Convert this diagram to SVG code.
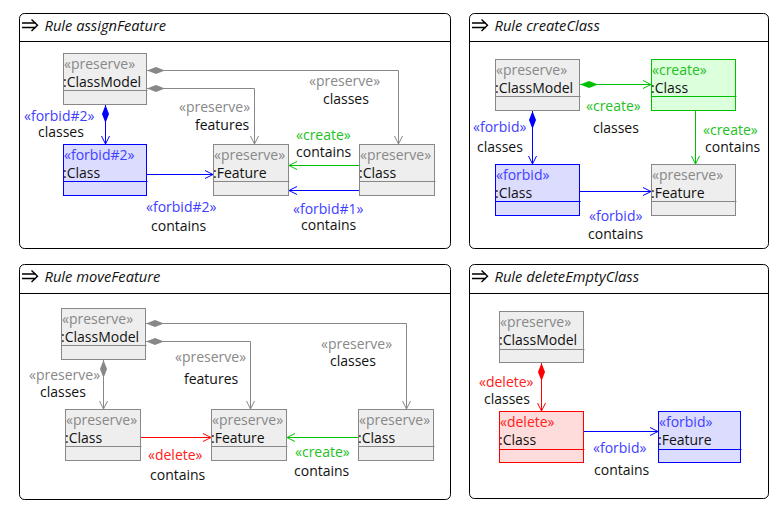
<svg xmlns="http://www.w3.org/2000/svg" width="784" height="508" viewBox="0 0 784 508">
<style>
text{font-family:"Open Sans","Noto Sans","Liberation Sans",sans-serif;font-size:14px;fill:#111}
.title{font-style:italic;font-size:14.7px}
.frame{fill:#fff;stroke:#000;stroke-width:1}
.hdr{stroke:#000;stroke-width:1}
.icon{fill:none;stroke:#000;stroke-width:1.4}
.np{fill:#eeeeee;stroke:#888}
.nf{fill:#dcdcff;stroke:#0000ff}
.nc{fill:#dcffdc;stroke:#00c000}
.nd{fill:#ffdcdc;stroke:#ff0000}
.dp{stroke:#888}.df{stroke:#0000ff}.dc{stroke:#00c000}.dd{stroke:#ff0000}
.sp{fill:#888}.sf{fill:#4040ff}.sc{fill:#22c022}.sd{fill:#ff2020}
.cp{fill:none;stroke:#888}.cf{fill:none;stroke:#0000ff}.cc{fill:none;stroke:#00c000}.cd{fill:none;stroke:#ff0000}
</style>
<defs>
<marker id="ap" markerUnits="userSpaceOnUse" markerWidth="12" markerHeight="12" viewBox="-10 -6 12 12" refX="0" refY="0" orient="auto"><path d="M-8,-4 L0,0 L-8,4" fill="none" stroke="#888"/></marker>
<marker id="af" markerUnits="userSpaceOnUse" markerWidth="12" markerHeight="12" viewBox="-10 -6 12 12" refX="0" refY="0" orient="auto"><path d="M-8,-4 L0,0 L-8,4" fill="none" stroke="#0000ff"/></marker>
<marker id="ac" markerUnits="userSpaceOnUse" markerWidth="12" markerHeight="12" viewBox="-10 -6 12 12" refX="0" refY="0" orient="auto"><path d="M-8,-4 L0,0 L-8,4" fill="none" stroke="#00c000"/></marker>
<marker id="ad" markerUnits="userSpaceOnUse" markerWidth="12" markerHeight="12" viewBox="-10 -6 12 12" refX="0" refY="0" orient="auto"><path d="M-8,-4 L0,0 L-8,4" fill="none" stroke="#ff0000"/></marker>
<marker id="mp" markerUnits="userSpaceOnUse" markerWidth="20" markerHeight="10" viewBox="-1 -5 20 10" refX="0" refY="0" orient="auto"><path d="M0,0 L9,-3.5 L18,0 L9,3.5 Z" fill="#888"/></marker>
<marker id="mf" markerUnits="userSpaceOnUse" markerWidth="20" markerHeight="10" viewBox="-1 -5 20 10" refX="0" refY="0" orient="auto"><path d="M0,0 L9,-3.5 L18,0 L9,3.5 Z" fill="#0000ff"/></marker>
<marker id="mc" markerUnits="userSpaceOnUse" markerWidth="20" markerHeight="10" viewBox="-1 -5 20 10" refX="0" refY="0" orient="auto"><path d="M0,0 L9,-3.5 L18,0 L9,3.5 Z" fill="#00c000"/></marker>
<marker id="md" markerUnits="userSpaceOnUse" markerWidth="20" markerHeight="10" viewBox="-1 -5 20 10" refX="0" refY="0" orient="auto"><path d="M0,0 L9,-3.5 L18,0 L9,3.5 Z" fill="#ff0000"/></marker>
<g id="ico"><path class="icon" d="M22,23 H36 M22,27.5 H36 M31.5,19.5 L37.5,25.2 L31.5,31"/></g>
</defs>

<!-- Panel frames -->
<g id="rule-assignFeature">
<rect class="frame" x="19.5" y="13.5" width="431" height="235" rx="5"/>
<line class="hdr" x1="19.5" y1="41.5" x2="450.5" y2="41.5"/>
<use href="#ico"/>
<text class="title" x="44.5" y="31">Rule assignFeature</text>
</g>
<g id="rule-createClass">
<rect class="frame" x="469.5" y="13.5" width="299" height="235" rx="5"/>
<line class="hdr" x1="469.5" y1="41.5" x2="768.5" y2="41.5"/>
<use href="#ico" x="450"/>
<text class="title" x="494.5" y="31">Rule createClass</text>
</g>
<g id="rule-moveFeature">
<rect class="frame" x="19.5" y="264.5" width="431" height="235" rx="5"/>
<line class="hdr" x1="19.5" y1="293.5" x2="450.5" y2="293.5"/>
<use href="#ico" y="251"/>
<text class="title" x="44.5" y="282">Rule moveFeature</text>
</g>
<g id="rule-deleteEmptyClass">
<rect class="frame" x="469.5" y="264.5" width="299" height="234" rx="5"/>
<line class="hdr" x1="469.5" y1="293.5" x2="768.5" y2="293.5"/>
<use href="#ico" x="450" y="251"/>
<text class="title" x="494.5" y="282">Rule deleteEmptyClass</text>
</g>

<!-- Connectors -->
<g id="connectors">
<path class="cp" d="M147,70.5 H398.5 V144" marker-start="url(#mp)" marker-end="url(#ap)"/>
<path class="cp" d="M147,88.5 H254.5 V144" marker-start="url(#mp)" marker-end="url(#ap)"/>
<path class="cf" d="M105.5,105 V144" marker-start="url(#mf)" marker-end="url(#af)"/>
<path class="cf" d="M147,174.5 H213" marker-end="url(#af)"/>
<path class="cc" d="M359,165.5 H289" marker-end="url(#ac)"/>
<path class="cf" d="M359,190.5 H289" marker-end="url(#af)"/>

<path class="cc" d="M580,84.5 H651" marker-start="url(#mc)" marker-end="url(#ac)"/>
<path class="cf" d="M532.5,111 V164" marker-start="url(#mf)" marker-end="url(#af)"/>
<path class="cc" d="M695.5,111 V164" marker-end="url(#ac)"/>
<path class="cf" d="M580,191.5 H651" marker-end="url(#af)"/>

<path class="cp" d="M146,323.5 H406.5 V409" marker-start="url(#mp)" marker-end="url(#ap)"/>
<path class="cp" d="M146,341.5 H250.5 V409" marker-start="url(#mp)" marker-end="url(#ap)"/>
<path class="cp" d="M103.5,360 V409" marker-start="url(#mp)" marker-end="url(#ap)"/>
<path class="cd" d="M141,437.5 H211" marker-end="url(#ad)"/>
<path class="cc" d="M358,437.5 H287" marker-end="url(#ac)"/>

<path class="cd" d="M541.5,363 V411" marker-start="url(#md)" marker-end="url(#ad)"/>
<path class="cf" d="M584,431.5 H658" marker-end="url(#af)"/>
</g>

<!-- Connector labels -->
<g id="edge-labels">
<text class="sf" x="24" y="121">«forbid#2»</text><text x="38" y="137">classes</text>
<text class="sp" x="179" y="111.5">«preserve»</text><text x="195" y="129.5">features</text>
<text class="sp" x="309" y="85.5">«preserve»</text><text x="323" y="103.5">classes</text>
<text class="sc" x="296" y="139.5">«create»</text><text x="296" y="156.5">contains</text>
<text class="sf" x="146" y="211.5">«forbid#2»</text><text x="151" y="230.5">contains</text>
<text class="sf" x="293" y="214">«forbid#1»</text><text x="301" y="230">contains</text>

<text class="sc" x="586" y="111">«create»</text><text x="593" y="132.5">classes</text>
<text class="sf" x="473" y="131.5">«forbid»</text><text x="477" y="151.5">classes</text>
<text class="sc" x="703" y="134.5">«create»</text><text x="705" y="151.5">contains</text>
<text class="sf" x="589" y="220.5">«forbid»</text><text x="588" y="238.5">contains</text>

<text class="sp" x="29" y="379.5">«preserve»</text><text x="40" y="396.5">classes</text>
<text class="sp" x="175" y="362">«preserve»</text><text x="184" y="383.5">features</text>
<text class="sp" x="321" y="348.5">«preserve»</text><text x="330" y="365.5">classes</text>
<text class="sd" x="148" y="459.5">«delete»</text><text x="150" y="479.5">contains</text>
<text class="sc" x="295" y="456.5">«create»</text><text x="294" y="476">contains</text>

<text class="sd" x="479" y="387">«delete»</text><text x="484" y="403.5">classes</text>
<text class="sf" x="593" y="452.5">«forbid»</text><text x="594" y="474.5">contains</text>
</g>

<!-- Nodes: assignFeature -->
<g id="af-classmodel"><rect class="np" x="63.5" y="53.5" width="83" height="51"/><line class="dp" x1="63.5" y1="90.5" x2="147.5" y2="90.5"/><text class="sp" x="64" y="69">«preserve»</text><text x="63" y="86.5">:ClassModel</text></g>
<g id="af-class-forbid"><rect class="nf" x="63.5" y="144.5" width="83" height="51"/><line class="df" x1="63.5" y1="181.5" x2="147.5" y2="181.5"/><text class="sf" x="64" y="160">«forbid#2»</text><text x="63" y="177.5">:Class</text></g>
<g id="af-feature"><rect class="np" x="213.5" y="144.5" width="75" height="51"/><line class="dp" x1="213.5" y1="181.5" x2="289.5" y2="181.5"/><text class="sp" x="214" y="160">«preserve»</text><text x="213" y="177.5">:Feature</text></g>
<g id="af-class"><rect class="np" x="359.5" y="144.5" width="75" height="51"/><line class="dp" x1="359.5" y1="181.5" x2="435.5" y2="181.5"/><text class="sp" x="360" y="160">«preserve»</text><text x="359" y="177.5">:Class</text></g>

<!-- Nodes: createClass -->
<g id="cc-classmodel"><rect class="np" x="495.5" y="59.5" width="84" height="51"/><line class="dp" x1="495.5" y1="96.5" x2="580.5" y2="96.5"/><text class="sp" x="496" y="75">«preserve»</text><text x="495" y="92.5">:ClassModel</text></g>
<g id="cc-class-create"><rect class="nc" x="651.5" y="59.5" width="84" height="51"/><line class="dc" x1="651.5" y1="96.5" x2="736.5" y2="96.5"/><text class="sc" x="652" y="75">«create»</text><text x="651" y="92.5">:Class</text></g>
<g id="cc-class-forbid"><rect class="nf" x="495.5" y="164.5" width="84" height="51"/><line class="df" x1="495.5" y1="201.5" x2="580.5" y2="201.5"/><text class="sf" x="496" y="180">«forbid»</text><text x="495" y="197.5">:Class</text></g>
<g id="cc-feature"><rect class="np" x="651.5" y="164.5" width="84" height="51"/><line class="dp" x1="651.5" y1="201.5" x2="736.5" y2="201.5"/><text class="sp" x="652" y="180">«preserve»</text><text x="651" y="197.5">:Feature</text></g>

<!-- Nodes: moveFeature -->
<g id="mf-classmodel"><rect class="np" x="61.5" y="308.5" width="84" height="51"/><line class="dp" x1="61.5" y1="345.5" x2="146.5" y2="345.5"/><text class="sp" x="62" y="324">«preserve»</text><text x="61" y="341.5">:ClassModel</text></g>
<g id="mf-class-left"><rect class="np" x="65.5" y="409.5" width="75" height="51"/><line class="dp" x1="65.5" y1="446.5" x2="141.5" y2="446.5"/><text class="sp" x="66" y="425">«preserve»</text><text x="65" y="442.5">:Class</text></g>
<g id="mf-feature"><rect class="np" x="211.5" y="409.5" width="75" height="51"/><line class="dp" x1="211.5" y1="446.5" x2="287.5" y2="446.5"/><text class="sp" x="212" y="425">«preserve»</text><text x="211" y="442.5">:Feature</text></g>
<g id="mf-class-right"><rect class="np" x="358.5" y="409.5" width="75" height="51"/><line class="dp" x1="358.5" y1="446.5" x2="434.5" y2="446.5"/><text class="sp" x="359" y="425">«preserve»</text><text x="358" y="442.5">:Class</text></g>

<!-- Nodes: deleteEmptyClass -->
<g id="de-classmodel"><rect class="np" x="499.5" y="311.5" width="84" height="51"/><line class="dp" x1="499.5" y1="349.5" x2="584.5" y2="349.5"/><text class="sp" x="500" y="327">«preserve»</text><text x="499" y="345">:ClassModel</text></g>
<g id="de-class-delete"><rect class="nd" x="499.5" y="411.5" width="84" height="51"/><line class="dd" x1="499.5" y1="449.5" x2="584.5" y2="449.5"/><text class="sd" x="500" y="427">«delete»</text><text x="499" y="445">:Class</text></g>
<g id="de-feature-forbid"><rect class="nf" x="658.5" y="411.5" width="82" height="51"/><line class="df" x1="658.5" y1="449.5" x2="741.5" y2="449.5"/><text class="sf" x="659" y="427">«forbid»</text><text x="658" y="445">:Feature</text></g>
</svg>
